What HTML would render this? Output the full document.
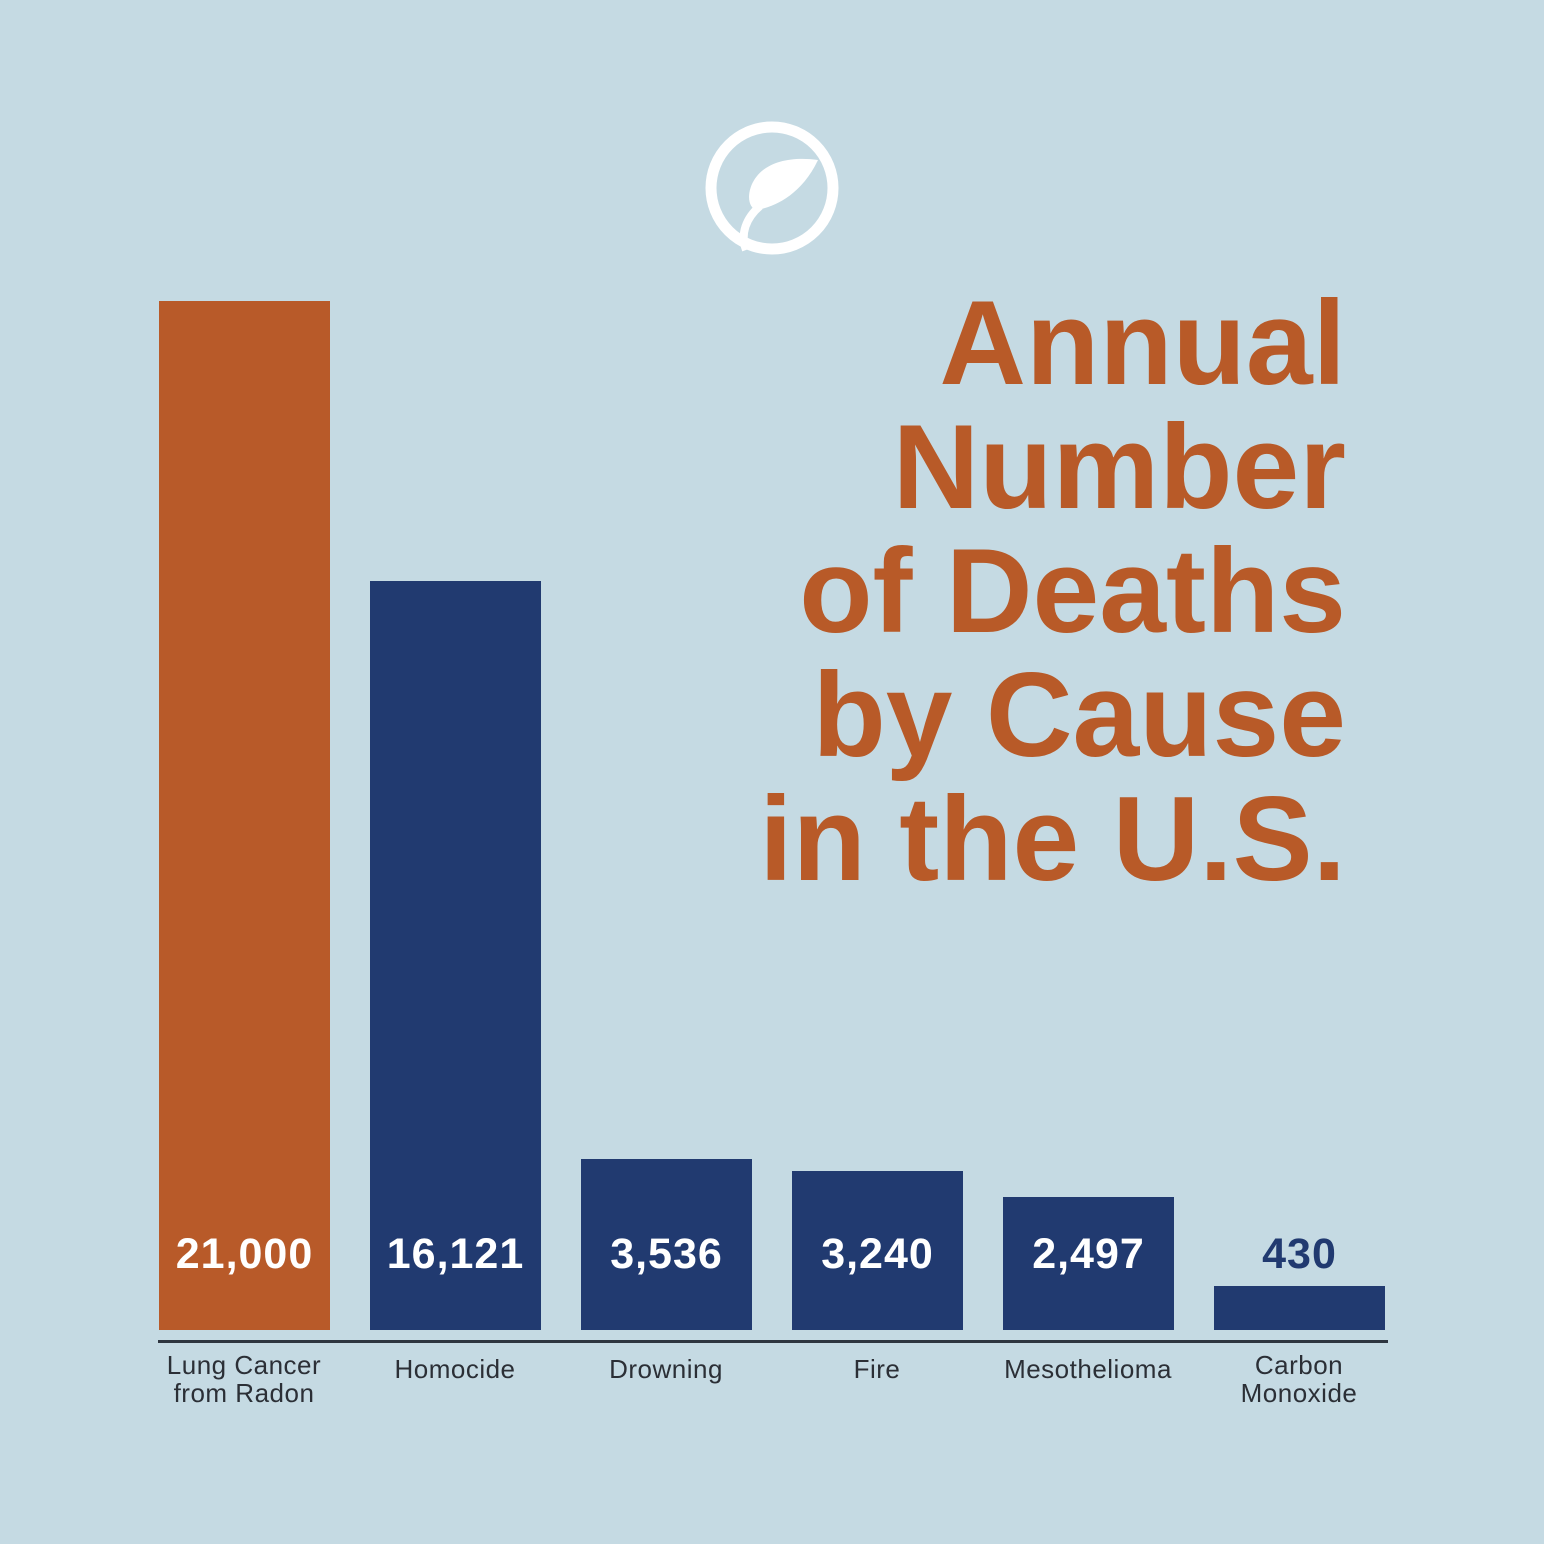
<!DOCTYPE html>
<html><head><style>
body{margin:0;width:1544px;height:1544px;background:#C5DAE3;position:relative;overflow:hidden;font-family:"Liberation Sans",sans-serif}
.bar{position:absolute;width:171px;bottom:214px}
.v{position:absolute;width:171px;text-align:center;top:1230px;font-weight:bold;font-size:43px;color:#fff;letter-spacing:1px}
.c{position:absolute;width:220px;text-align:center;font-size:26px;color:#2b2f36;line-height:28px;letter-spacing:0.5px}
.t{position:absolute;right:198px;text-align:right;font-weight:bold;font-size:120px;color:#B85A28;line-height:124px;top:281px;letter-spacing:0px}
</style></head><body>
<svg style="position:absolute;left:700px;top:118px" width="144" height="144" viewBox="0 0 144 144">
<circle cx="72" cy="70" r="61" fill="none" stroke="#fff" stroke-width="11"/>
<path d="M118 42 C90 38 62 44 52 66 C46 80 50 90 56 92 C70 90 100 80 118 42Z" fill="#fff"/>
<path d="M60 88 C46 100 40 116 46 132" fill="none" stroke="#fff" stroke-width="8"/>
</svg>
<div class="t">Annual<br>Number<br>of Deaths<br>by Cause<br>in the U.S.</div>
<div class="bar" style="left:159px;top:301px;background:#B85A29"></div>
<div class="bar" style="left:370px;top:581px;background:#213A70"></div>
<div class="bar" style="left:581px;top:1159px;background:#213A70"></div>
<div class="bar" style="left:792px;top:1171px;background:#213A70"></div>
<div class="bar" style="left:1003px;top:1197px;background:#213A70"></div>
<div class="bar" style="left:1214px;top:1286px;background:#213A70"></div>
<div class="v" style="left:159px">21,000</div>
<div class="v" style="left:370px">16,121</div>
<div class="v" style="left:581px">3,536</div>
<div class="v" style="left:792px">3,240</div>
<div class="v" style="left:1003px">2,497</div>
<div class="v" style="left:1214px;color:#213A70">430</div>
<div style="position:absolute;left:158px;top:1340px;width:1230px;height:3px;background:#2e3640"></div>
<div class="c" style="left:134px;top:1351px">Lung Cancer<br>from Radon</div>
<div class="c" style="left:345px;top:1355px">Homocide</div>
<div class="c" style="left:556px;top:1355px">Drowning</div>
<div class="c" style="left:767px;top:1355px">Fire</div>
<div class="c" style="left:978px;top:1355px">Mesothelioma</div>
<div class="c" style="left:1189px;top:1351px">Carbon<br>Monoxide</div>
</body></html>
